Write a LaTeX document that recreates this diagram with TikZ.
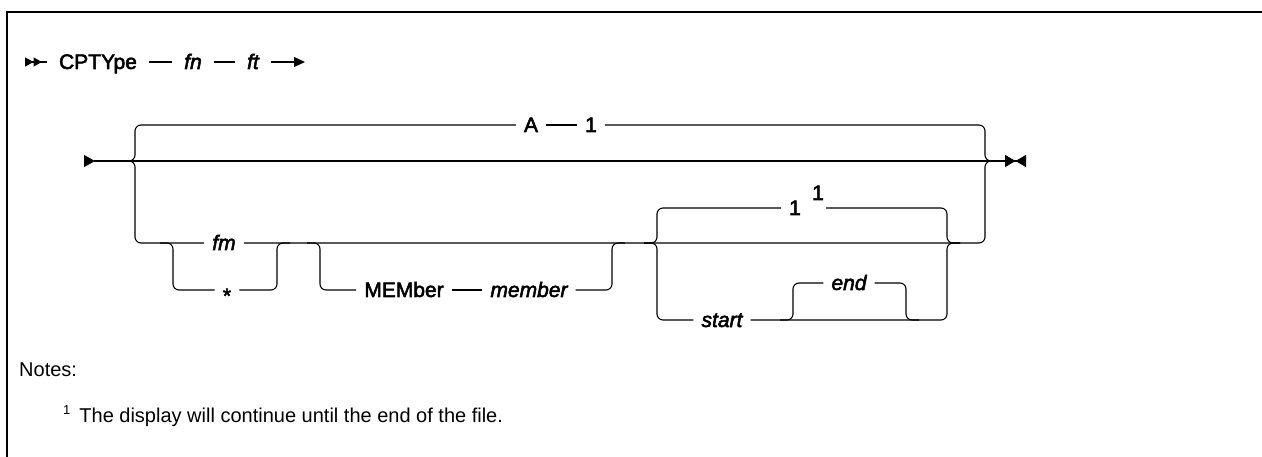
\documentclass[tikz,border=0pt]{standalone}
\usepackage{fontspec}
\setmainfont{Liberation Sans}
\newfontfamily\railfont{Liberation Sans}[FakeBold=2.5]
\usetikzlibrary{arrows.meta}

\begin{document}
\begin{tikzpicture}[
    x=1pt, y=-1pt,
    rail/.style={line width=1.1pt, rounded corners=6pt},
    frame/.style={line width=1.7pt},
    kw/.style={font=\railfont\fontsize{21}{25}\selectfont, inner xsep=8pt, inner ysep=0pt, text height=14pt, text depth=0pt},
    var/.style={kw, font=\railfont\itshape\fontsize{21}{25}\selectfont},
    head/.style={inner xsep=12pt},
    note/.style={font=\fontsize{20}{24}\selectfont, inner sep=0pt, anchor=base west}
]
    \useasboundingbox (0,0) rectangle (1262,457);
    % Frame
    \draw[frame] (7,457) -- (7,12) -- (1262,12);

    % Command line
    \coordinate (hstart) at (25,62);
    \coordinate (hend) at (305,62);
    \node[kw, head] (cptype) at (98,62) {CPTYpe};
    \node[var, head] (fn) at (193,62) {fn};
    \node[var, head] (ft) at (253,62) {ft};
    \draw[rail, {Triangle[reversed,length=8.5pt,width=9pt,sep=0pt]Triangle[reversed,length=8.5pt,width=9pt]}-] (hstart) -- (cptype);
    \draw[rail] (cptype) -- (fn);
    \draw[rail] (fn) -- (ft);
    \draw[rail, -{Triangle[length=11pt,width=10pt]}] (ft) -- (hend);

    % Main line
    \coordinate (entry) at (84,161);
    \coordinate (lpre) at (120,161);
    \coordinate (lsplit) at (135,161);
    \coordinate (rjoin) at (985,161);
    \coordinate (rtail) at (997,161);
    \coordinate (exit) at (1026,161);
    \draw[rail, {Triangle[reversed,length=11pt,width=12pt]}-{Triangle[length=10.5pt,width=12pt,sep=0pt]Triangle[reversed,length=10.5pt,width=12pt]}] (entry) -- (exit);

    % Default A 1
    \node[kw] (A) at (531,125) {A};
    \node[kw] (one) at (591,125) {1};
    \draw[rail] (lpre) -| (lsplit |- A) -- (A);
    \draw[rail] (A) -- (one);
    \draw[rail] (one) -| (rjoin) -- (rtail);

    % fm branch
    \node[var] (fm) at (224,243) {fm};
    \draw[rail] (lpre) -| (lsplit |- fm) -- (fm);
    \draw[rail] (fm) -| (rjoin) -- (rtail);

    % fm or *
    \coordinate (fpre) at (160,243);
    \coordinate (fsplit) at (173,243);
    \coordinate (fjoin) at (277,243);
    \coordinate (fpost) at (290,243);
    \node[kw] (star) at (227,290) {\raisebox{-6pt}{*}};
    \draw[rail] (fpre) -| (fsplit |- star) -- (star);
    \draw[rail] (star) -| (fjoin) -- (fpost);

    % MEMber member
    \coordinate (mpre) at (307,243);
    \coordinate (msplit) at (320,243);
    \coordinate (mjoin) at (612,243);
    \coordinate (mpost) at (625,243);
    \node[kw] (mem) at (404,290) {MEMber};
    \node[var] (member) at (529,290) {member};
    \draw[rail] (mpre) -| (msplit |- mem) -- (mem);
    \draw[rail] (mem) -- (member);
    \draw[rail] (member) -| (mjoin) -- (mpost);

    % 1 or start end
    \coordinate (ipre) at (644,243);
    \coordinate (isplit) at (657,243);
    \coordinate (ijoin) at (947,243);
    \coordinate (ipost) at (960,243);
    \node[kw] (dflt) at (795,208) {1};
    \node[kw, inner xsep=2pt] (fnmark) at (818,193) {1};
    \node[var] (start) at (722,320) {start};
    \draw[rail] (ipre) -| (isplit |- dflt) -- (dflt);
    \draw[rail] (fnmark.east |- dflt) -| (ijoin) -- (ipost);
    \draw[rail] (ipre) -| (isplit |- start) -- (start);
    \draw[rail] (start) -| (ijoin) -- (ipost);

    % optional end
    \coordinate (epre) at (780,320);
    \coordinate (esplit) at (793,320);
    \coordinate (ejoin) at (906,320);
    \coordinate (epost) at (919,320);
    \node[var] (endv) at (849,283) {end};
    \draw[rail] (epre) -| (esplit |- endv) -- (endv);
    \draw[rail] (endv) -| (ejoin) -- (epost);

    % Notes
    \node[note] (notes) at (19,376) {Notes:};
    \node[note] (note1) at (63,422) {\raisebox{8pt}{\fontsize{13}{13}\selectfont 1}\kern9pt The display will continue until the end of the file.};
\end{tikzpicture}
\end{document}
